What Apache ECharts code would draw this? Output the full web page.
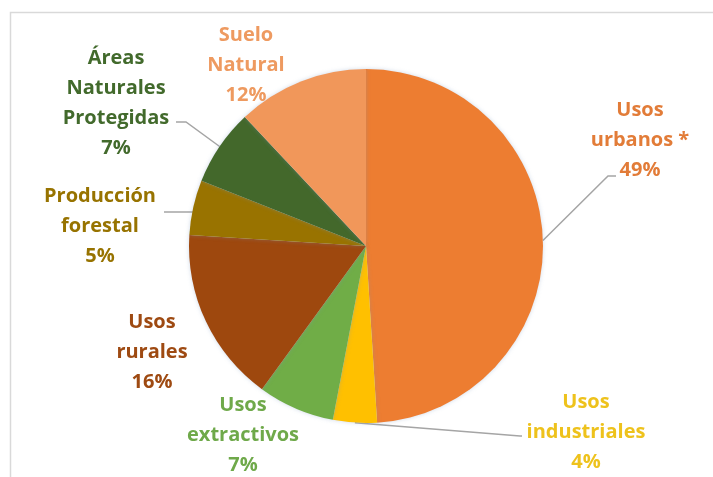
<!DOCTYPE html>
<html>
<head>
<meta charset="utf-8">
<script src="https://cdn.jsdelivr.net/npm/echarts@6/dist/echarts.min.js"></script>
<style>html,body{margin:0;padding:0;background:#fff}#c{width:713px;height:477px}</style>
</head>
<body>
<div id="c"></div>
<script>
// ---- data ----
var categories = ['Usos\nurbanos *', 'Usos\nindustriales', 'Usos\nextractivos', 'Usos\nrurales', 'Producción\nforestal', 'Áreas\nNaturales\nProtegidas', 'Suelo\nNatural'];
var values = [49, 4, 7, 16, 5, 7, 12];
var colors = ['#ED7D31', '#FFC000', '#70AD47', '#9E480E', '#997300', '#43682B', '#F1975A'];
var labelColors = ['#E27C38', '#EEC21C', '#6FA94A', '#9E4A12', '#977300', '#426A2C', '#EE9A60'];
var showLeader = [true, true, false, false, true, true, false];

// ---- label placement (layout, not data) ----
var labelCenters = [[640, 140], [586, 432], [243, 435], [152, 352], [100, 226], [116, 103], [246, 65]];
var leaderBends = [[-32, 36, -24, 36], [-66, 4, -64, 4], null, null, [72, -14, 64, -14], [70, 19, 60, 19], null];

var chart = echarts.init(document.getElementById('c'), null, {renderer: 'canvas'});
var dataItems = categories.map(function (name, i) {
  return {
    name: name,
    value: values[i],
    itemStyle: {color: colors[i]},
    label: {color: labelColors[i]},
    labelLine: {show: showLeader[i]}
  };
});

chart.setOption({
  animation: false,
  backgroundColor: '#ffffff',
  graphic: [{
    type: 'rect',
    shape: {x: 10.5, y: 12.5, width: 900, height: 700},
    style: {fill: 'none', stroke: '#d9d9d9', lineWidth: 1.5},
    silent: true
  }],
  series: [{
    type: 'pie',
    center: [366, 246],
    radius: 177,
    startAngle: 90,
    clockwise: true,
    data: dataItems,
    itemStyle: {
      shadowBlur: 4,
      shadowColor: 'rgba(120,150,190,0.35)'
    },
    label: {
      show: true,
      position: 'outside',
      formatter: function (p) { return p.name + '\n' + p.value + '%'; },
      fontFamily: 'Open Sans',
      fontWeight: 'bold',
      fontSize: 20,
      lineHeight: 30,
      align: 'center'
    },
    labelLine: {
      show: true,
      length: 10,
      length2: 10,
      lineStyle: {color: '#a5a5a5', width: 1.5}
    },
    labelLayout: function (params) {
      var i = params.dataIndex;
      var c = labelCenters[i];
      var res = {x: c[0], y: c[1], align: 'center', verticalAlign: 'middle'};
      var b = leaderBends[i];
      if (b && params.labelLinePoints) {
        var s = params.labelLinePoints[0];
        var start = [s[0], s[1]];
        if (i === 4) { start = [s[0], c[1] + b[1]]; }
        res.labelLinePoints = [start, [c[0] + b[0], c[1] + b[1]], [c[0] + b[2], c[1] + b[3]]];
      }
      return res;
    }
  }]
});
</script>
</body>
</html>
